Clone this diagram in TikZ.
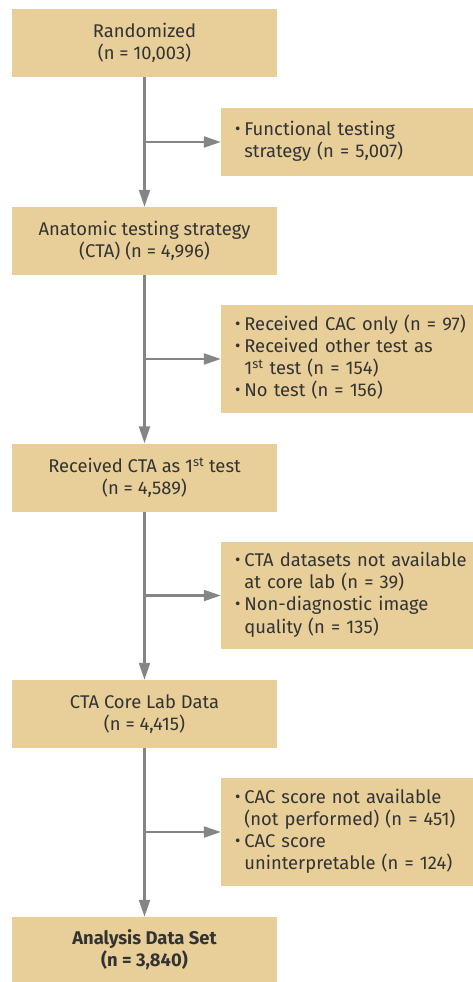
\documentclass[tikz,border=0pt]{standalone}
\usepackage{fontspec}
\setmainfont{Fira Sans}
\usetikzlibrary{arrows.meta}

\definecolor{boxtan}{HTML}{E8CF99}
\definecolor{linegray}{HTML}{858585}
\definecolor{txtgray}{HTML}{333333}

\newcommand{\bul}{\raisebox{0.1ex}{\scalebox{0.9}{\textbullet}}}

\tikzset{
  stepbox/.style={fill=boxtan, text=txtgray, align=center, inner sep=0pt,
    minimum width=265, minimum height=68},
  exclbox/.style={fill=boxtan, text=txtgray, align=left, inner xsep=10, inner ysep=0pt,
    text width=232, minimum height=68},
  flow/.style={-{Triangle[length=17,width=11]}, draw=linegray, line width=2.2}
}

\begin{document}
\begin{tikzpicture}[x=1pt, y=-1pt, font=\fontsize{18.4}{22}\selectfont]
  \useasboundingbox (0,0) rectangle (473,982);

  % main column
  \node[stepbox] (rand) at (144.5,43) {Randomized\\(n = 10,003)};
  \node[stepbox] (anat) at (144.5,241) {Anatomic testing strategy\\(CTA) (n = 4,996)};
  \node[stepbox] (recv) at (144.5,477.5) {Received CTA as 1\textsuperscript{st} test\\(n = 4,589)};
  \node[stepbox] (core) at (144.5,714) {CTA Core Lab Data\\(n = 4,415)};
  \node[stepbox, minimum height=66] (anal) at (144.5,950) {\bfseries Analysis Data Set\\\bfseries (n = 3,840)};

  % exclusions
  \node[exclbox] (excl1) at (347,142) {%
    \begin{tabular}{@{\hspace{4pt}}l@{\hspace{4pt}}l@{}}
    \bul & Functional testing\\
         & strategy (n = 5,007)
    \end{tabular}};
  \node[exclbox, minimum height=108] (excl2) at (347,359) {%
    \begin{tabular}{@{\hspace{4pt}}l@{\hspace{4pt}}l@{}}
    \bul & Received CAC only (n = 97)\\
    \bul & Received other test as\\
         & 1\textsuperscript{st} test (n = 154)\\
    \bul & No test (n = 156)
    \end{tabular}};
  \node[exclbox, minimum height=107] (excl3) at (347,595.5) {%
    \begin{tabular}{@{\hspace{4pt}}l@{\hspace{4pt}}l@{}}
    \bul & CTA datasets not available\\
         & at core lab (n = 39)\\
    \bul & Non-diagnostic image\\
         & quality (n = 135)
    \end{tabular}};
  \node[exclbox, minimum height=108] (excl4) at (347,832) {%
    \begin{tabular}{@{\hspace{4pt}}l@{\hspace{4pt}}l@{}}
    \bul & CAC score not available\\
         & (not performed) (n = 451)\\
    \bul & CAC score\\
         & uninterpretable (n = 124)
    \end{tabular}};

  % arrows down
  \draw[flow] (rand) -- (anat);
  \draw[flow] (anat) -- (recv);
  \draw[flow] (recv) -- (core);
  \draw[flow] (core) -- (anal);

  % arrows to the side
  \draw[flow] (rand.south |- excl1.west) -- (excl1);
  \draw[flow] (anat.south |- excl2.west) -- (excl2);
  \draw[flow] (recv.south |- excl3.west) -- (excl3);
  \draw[flow] (core.south |- excl4.west) -- (excl4);
\end{tikzpicture}
\end{document}
